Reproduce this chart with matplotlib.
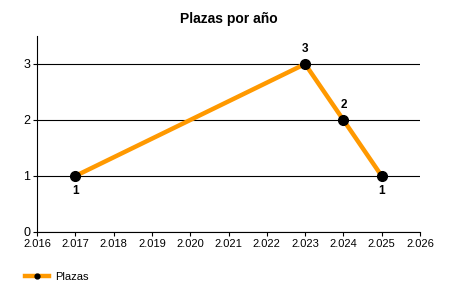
import matplotlib
matplotlib.use("Agg")
import matplotlib.pyplot as plt
from matplotlib.ticker import FuncFormatter, MultipleLocator

# data
years = [2017, 2023, 2024, 2025]
plazas = [1, 3, 2, 1]
label_pos = ["below", "above", "above", "below"]

plt.rcParams['font.family'] = ['Liberation Sans', 'DejaVu Sans']

fig = plt.figure(figsize=(4.5, 3), dpi=100)
ax = fig.add_axes([37/450, 68/300, 383/450, 196/300])

ax.plot(years, plazas, color='#FF9900', lw=3.2, marker='o', ms=7,
        mfc='black', mec='black', label='Plazas', zorder=3)

for x, y, p in zip(years, plazas, label_pos):
    off = 11 if p == "above" else -11
    ax.annotate(str(y), (x, y), xytext=(0, off), textcoords='offset points',
                ha='center', va='center', fontsize=8.5, fontweight='bold')

ax.set_xlim(2016, 2026)
ax.set_ylim(0, 3.5)
ax.xaxis.set_major_locator(MultipleLocator(1))
ax.yaxis.set_major_locator(MultipleLocator(1))
ax.xaxis.set_major_formatter(FuncFormatter(lambda v, p: f"{v:,.0f}".replace(',', '.')))
ax.grid(axis='y', color='black', lw=0.8)
ax.set_axisbelow(True)
ax.spines['top'].set_visible(False)
ax.spines['right'].set_visible(False)
ax.tick_params(axis='x', labelsize=8, length=3, width=0.8, pad=2)
ax.tick_params(axis='y', labelsize=9, length=3, width=0.8, pad=2)

ax.set_title("Plazas por año", fontsize=10, fontweight='bold', pad=9)

fig.legend(loc='lower left', bbox_to_anchor=(15/450, 8/300), frameon=False,
           fontsize=8, handlelength=2.2, handletextpad=0.5, markerscale=0.5)

fig.savefig("out.png", dpi=100)
